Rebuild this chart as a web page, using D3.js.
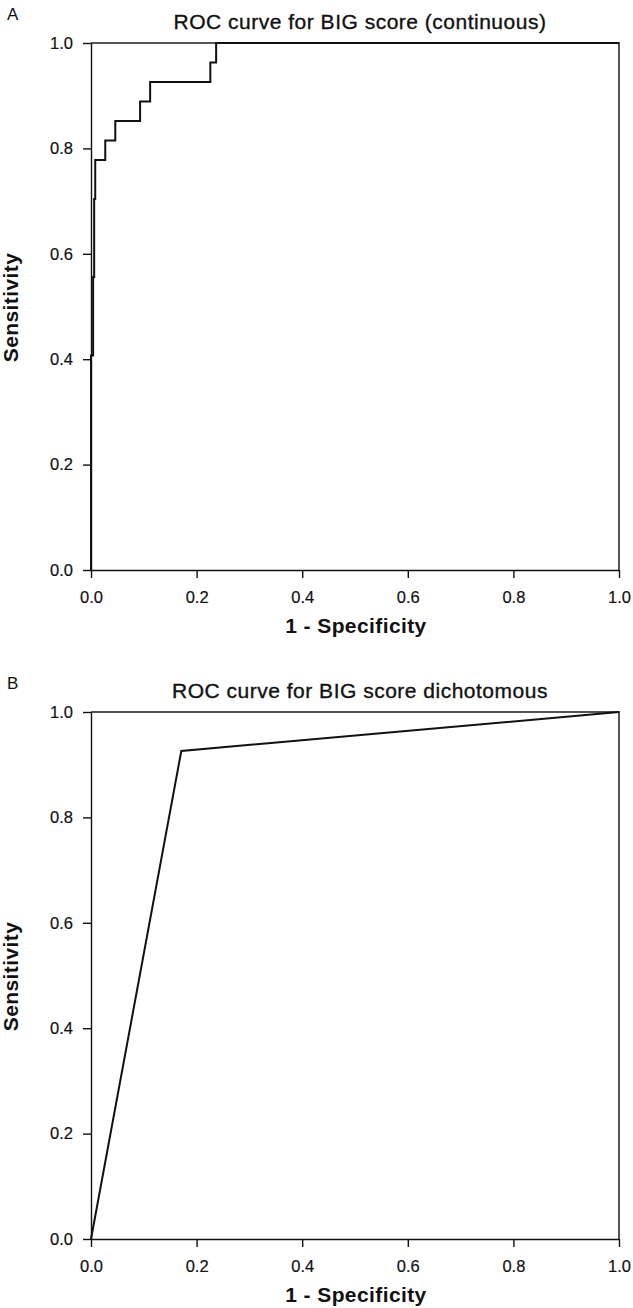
<!DOCTYPE html>
<html>
<head>
<meta charset="utf-8">
<script src="https://cdn.jsdelivr.net/npm/d3@7"></script>
<style>
  body{margin:0;background:#fff;}
  svg text{font-family:"Liberation Sans",Arial,sans-serif;fill:#111;}
  .tick text{font-size:16.5px;stroke:#111;stroke-width:0.2px;}
  .axis path,.axis line{stroke:#111;stroke-width:1.4px;}
</style>
</head>
<body>
<div id="chart"></div>
<script>
// ROC points (1 - specificity, sensitivity)
const contFpr=[0,0,0.004,0.006,0.008,0.027,0.046,0.093,0.112,0.226,0.237,1];
const contTpr=[0,0.407,0.556,0.704,0.778,0.815,0.852,0.889,0.926,0.963,1,1];
const dichFpr=[0,0.171,1];
const dichTpr=[0,0.926,1];
const tickValues=[0,0.2,0.4,0.6,0.8,1.0];
const panels=[
  {letter:`A`,title:`ROC curve for BIG score (continuous)`,fpr:contFpr,tpr:contTpr,step:true,top:43},
  {letter:`B`,title:`ROC curve for BIG score dichotomous`,fpr:dichFpr,tpr:dichTpr,step:false,top:712}
];

const W=633,H=1308;
const left=91,right=619,plotH=527;

let svg=d3.select(`#chart`).append(`svg`)
  .attr(`width`,W)
  .attr(`height`,H);

//draw one ROC panel
function drawPanel(p){
  let x=d3.scaleLinear().domain([0,1]).range([left,right]);
  let y=d3.scaleLinear().domain([0,1]).range([p.top+plotH,p.top]);
  let g=svg.append(`g`);

  //frame top and right
  g.append(`path`)
    .attr(`d`,`M${x(0)},${y(1)}H${x(1)}V${y(0)}`)
    .attr(`fill`,`none`)
    .attr(`stroke`,`#555`)
    .attr(`stroke-width`,2);

  g.append(`g`)
    .attr(`class`,`axis`)
    .attr(`transform`,`translate(0,${y(0)})`)
    .call(d3.axisBottom(x).tickValues(tickValues).tickFormat(d3.format(`.1f`)).tickSize(8).tickPadding(13).tickSizeOuter(0));

  g.append(`g`)
    .attr(`class`,`axis`)
    .attr(`transform`,`translate(${x(0)},0)`)
    .call(d3.axisLeft(y).tickValues(tickValues).tickFormat(d3.format(`.1f`)).tickSize(8).tickPadding(10).tickSizeOuter(0));

  let line=d3.line()
    .x((d,i)=>x(p.fpr[i]))
    .y((d,i)=>y(p.tpr[i]))
    .curve(p.step?d3.curveStepAfter:d3.curveLinear);

  g.append(`path`)
    .datum(p.fpr)
    .attr(`d`,line)
    .attr(`fill`,`none`)
    .attr(`stroke`,`#111`)
    .attr(`stroke-width`,2);

  g.append(`text`)
    .attr(`x`,(left+right)/2+5)
    .attr(`y`,p.top-14)
    .attr(`text-anchor`,`middle`)
    .style(`font-size`,`21px`)
    .style(`letter-spacing`,`0.5px`)
    .style(`stroke`,`#111`)
    .style(`stroke-width`,`0.35px`)
    .text(p.title);

  g.append(`text`)
    .attr(`x`,7)
    .attr(`y`,p.top-23)
    .style(`font-size`,`17px`)
    .text(p.letter);

  g.append(`text`)
    .attr(`x`,(left+right)/2+1)
    .attr(`y`,y(0)+63)
    .attr(`text-anchor`,`middle`)
    .style(`font-size`,`21px`)
    .style(`letter-spacing`,`0.4px`)
    .style(`font-weight`,`bold`)
    .text(`1 - Specificity`);

  g.append(`text`)
    .attr(`transform`,`translate(18,${(y(0)+y(1))/2+1}) rotate(-90)`)
    .attr(`text-anchor`,`middle`)
    .style(`font-size`,`21px`)
    .style(`letter-spacing`,`0.4px`)
    .style(`font-weight`,`bold`)
    .text(`Sensitivity`);
}

panels.forEach(drawPanel);
</script>
</body>
</html>
